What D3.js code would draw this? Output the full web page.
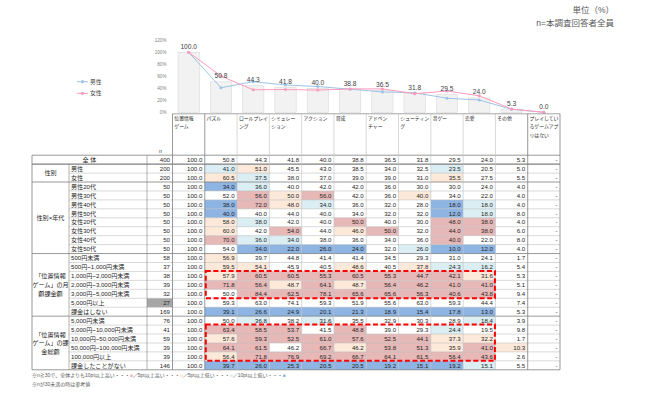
<!DOCTYPE html>
<html><head><meta charset="utf-8">
<script src="https://cdn.jsdelivr.net/npm/d3@7"></script>
<style>
body{margin:0;background:#fff;}
svg{display:block;font-family:"Liberation Sans","Noto Sans CJK JP",sans-serif;}
</style>
</head><body>
<svg id="c" width="650" height="393"></svg>
<script>
// ---------------- data ----------------
const categories = ["位置情報ゲーム","パズル","ロールプレイング","シミュレーション","アクション","育成","アドベンチャー","シューティング","音ゲー","恋愛","その他","プレイしているゲームアプリはない"];
const categoryLines = [["位置情報","ゲーム"],["パズル"],["ロールプレイ","ング"],["シミュレー","ション"],["アクション"],["育成"],["アドベン","チャー"],["シューティン","グ"],["音ゲー"],["恋愛"],["その他"],["プレイしてい","るゲームアプ","リはない"]];
const barValues    = [100.0,50.8,44.3,41.8,40.0,38.8,36.5,31.8,29.5,24.0,5.3,0.0];
const maleValues   = [100.0,41.0,51.0,45.5,43.0,38.5,34.0,32.5,23.5,20.5,5.0,0.0];
const femaleValues = [100.0,60.5,37.5,38.0,37.0,39.0,39.0,31.0,35.5,27.5,5.5,0.0];
const seriesNames = ["男性","女性"];
const yTicks = [0,20,40,60,80,100,120];

const rowLabels = ["全 体","男性","女性","男性20代","男性30代","男性40代","男性50代","女性20代","女性30代","女性40代","女性50代",
  "500円未満","500円~1,000円未満","1,000円~2,000円未満","2,000円~3,000円未満","3,000円~5,000円未満","5,000円以上","課金はしない",
  "5,000円未満","5,000円~10,000円未満","10,000円~50,000円未満","50,000円~100,000円未満","100,000円以上","課金したことがない"];
const rowN = [400,200,200,50,50,50,50,50,50,50,50,58,37,38,39,32,27,169,76,41,59,39,39,146];
const rowValues = [
  [100.0,50.8,44.3,41.8,40.0,38.8,36.5,31.8,29.5,24.0,5.3,null],
  [100.0,41.0,51.0,45.5,43.0,38.5,34.0,32.5,23.5,20.5,5.0,null],
  [100.0,60.5,37.5,38.0,37.0,39.0,39.0,31.0,35.5,27.5,5.5,null],
  [100.0,34.0,36.0,40.0,42.0,42.0,36.0,30.0,30.0,24.0,4.0,null],
  [100.0,52.0,56.0,50.0,56.0,42.0,36.0,40.0,34.0,22.0,4.0,null],
  [100.0,38.0,72.0,48.0,34.0,36.0,32.0,28.0,18.0,18.0,4.0,null],
  [100.0,40.0,40.0,44.0,40.0,34.0,32.0,32.0,12.0,18.0,8.0,null],
  [100.0,58.0,38.0,42.0,40.0,50.0,40.0,30.0,48.0,38.0,4.0,null],
  [100.0,60.0,42.0,54.0,44.0,46.0,50.0,32.0,44.0,38.0,6.0,null],
  [100.0,70.0,36.0,34.0,38.0,36.0,34.0,36.0,40.0,22.0,8.0,null],
  [100.0,54.0,34.0,22.0,26.0,24.0,32.0,26.0,10.0,12.0,4.0,null],
  [100.0,56.9,39.7,44.8,41.4,41.4,34.5,29.3,31.0,24.1,1.7,null],
  [100.0,59.5,54.1,45.9,40.5,48.6,40.5,37.8,24.3,16.2,5.4,null],
  [100.0,57.9,60.5,60.5,55.3,60.5,55.3,44.7,42.1,31.6,5.3,null],
  [100.0,71.8,56.4,48.7,64.1,48.7,56.4,46.2,41.0,41.0,5.1,null],
  [100.0,50.0,84.4,62.5,78.1,65.6,65.6,56.3,40.6,43.8,9.4,null],
  [100.0,59.3,63.0,74.1,59.3,51.9,55.6,63.0,59.3,44.4,7.4,null],
  [100.0,39.1,26.6,24.9,20.1,21.3,18.9,15.4,17.8,13.0,5.3,null],
  [100.0,50.0,36.8,38.2,31.6,35.5,32.9,30.3,28.9,18.4,3.9,null],
  [100.0,63.4,58.5,53.7,41.5,48.8,39.0,29.3,24.4,19.5,9.8,null],
  [100.0,57.6,59.3,52.5,61.0,57.6,52.5,44.1,37.3,32.2,1.7,null],
  [100.0,64.1,61.5,46.2,66.7,46.2,53.8,51.3,35.9,41.0,10.3,null],
  [100.0,56.4,71.8,76.9,69.2,66.7,64.1,61.5,56.4,43.6,2.6,null],
  [100.0,39.7,26.0,25.3,20.5,20.5,19.2,15.1,19.2,15.1,5.5,null]
];
const groupLines = [["性別"],["性別×年代"],["「位置情報","ゲーム」の月","額課金額"],["「位置情報","ゲーム」の課","金総額"]];
const groupStart = [1,3,11,18];
const groupEnd   = [2,10,17,23];
const highlightRows = [[13,15],[19,22]];
const highlightCols = [1,9];
const footParts = ["※n≧30で、全体よりも10pt以上高い・・・","／5pt以上高い・・・","／5pt以上低い・・・","／10pt以上低い・・・"];
const footNote2 = "※nが30未満の時は参考値";
const unitLines = ["単位（%）","n=本調査回答者全員"];

// ---------------- styles ----------------
const C_RED="#e6b8b7", C_PEACH="#fde9d9", C_LBLUE="#daeef3", C_BLUE="#8db4e2";
const legendColors = ["#9dc3e6","#ff99bb"];
function cellColor(v, base, n){
  if(v==null || n<30) return null;
  const d = Math.round((v-base)*10)/10;
  if(d>=10) return C_RED;
  if(d>=5) return C_PEACH;
  if(d<=-10) return C_BLUE;
  if(d<=-5) return C_LBLUE;
  return null;
}

const svg = d3.select("#c");
const X0=32, X1=69, X2=147, XD=172.5, XE=560;
const col = d3.scaleBand().domain(d3.range(categories.length)).range([XD, XE]);
const step = col.bandwidth();
const cx = i => col(i)+step/2;
const y = d3.scaleLinear().domain([0,120]).range([112.3,40.3]);
const row = d3.scaleBand().domain(d3.range(rowLabels.length)).range([155.2,369.8]);
const rh = row.bandwidth();
const ry = i => row(i)+rh/2;

// ---------------- top-right unit ----------------
svg.append("g").selectAll("text").data(unitLines).join("text")
  .attr("x",614).attr("y",(d,i)=>13+i*12.5).attr("text-anchor","end")
  .attr("font-size",8.5).attr("fill","#595959").text(d=>d);

// ---------------- bar chart ----------------
svg.append("g").selectAll("rect").data(barValues).join("rect")
  .attr("x",(d,i)=>col(i)+step*0.17).attr("width",step*0.66)
  .attr("y",d=>y(d)).attr("height",d=>y(0)-y(d))
  .attr("fill","#f2f2f2").attr("stroke","#d9d9d9").attr("stroke-width",0.6);

const yAxis = d3.axisLeft(y).tickValues(yTicks).tickFormat(d=>d+"%").tickSize(0).tickPadding(0);
const ya = svg.append("g").attr("transform","translate(166.5,0)").call(yAxis);
ya.select(".domain").remove();
ya.attr("font-family",null);
ya.selectAll("text").attr("font-size",4.6).attr("fill","#808080");

const lineGen = d3.line().x((d,i)=>cx(i)).y(d=>y(d));
[maleValues,femaleValues].forEach((vals,k)=>{
  svg.append("path").datum(vals).attr("d",lineGen).attr("fill","none")
    .attr("stroke",legendColors[k]).attr("stroke-width",1);
  svg.append("g").selectAll("circle").data(vals).join("circle")
    .attr("cx",(d,i)=>cx(i)).attr("cy",d=>y(d)).attr("r",1.5).attr("fill",legendColors[k]);
});

svg.append("g").selectAll("text").data(barValues).join("text")
  .attr("x",(d,i)=>cx(i)).attr("y",d=>y(d)-3.5).attr("text-anchor","middle")
  .attr("font-size",6.6).attr("fill","#404040").text(d=>d.toFixed(1));

// legend
const lg = svg.append("g");
seriesNames.forEach((s,k)=>{
  const yy = 81.7 + k*11.6;
  lg.append("line").attr("x1",77).attr("x2",88).attr("y1",yy).attr("y2",yy).attr("stroke",legendColors[k]).attr("stroke-width",1);
  lg.append("circle").attr("cx",82.5).attr("cy",yy).attr("r",1.6).attr("fill",legendColors[k]);
  lg.append("text").attr("x",90).attr("y",yy).attr("dy","0.35em").attr("font-size",5.8).attr("fill","#404040").text(s);
});

// ---------------- table header ----------------
const HT = 113.8;
const hdr = svg.append("g");
hdr.append("line").attr("x1",XD).attr("x2",XE).attr("y1",HT).attr("y2",HT).attr("stroke","#7f7f7f").attr("stroke-width",0.7);
categoryLines.forEach((lines,i)=>{
  hdr.append("g").selectAll("text").data(lines).join("text")
    .attr("x",col(i)+1.8).attr("y",(d,j)=>120.2+j*8.2)
    .attr("font-size",4.85).attr("fill","#262626").text(d=>d);
});
hdr.append("text").attr("x",159).attr("y",153).attr("font-size",5.4).attr("fill","#404040").text("n");

// ---------------- table body ----------------
const body = svg.append("g");
rowValues.forEach((vals,r)=>{
  vals.forEach((v,c)=>{
    const f = cellColor(v,rowValues[0][c],rowN[r]);
    if(f) body.append("rect").attr("x",col(c)).attr("y",row(r)).attr("width",step).attr("height",rh).attr("fill",f);
  });
  if(rowN[r]<30) body.append("rect").attr("x",X2).attr("y",row(r)).attr("width",XD-X2).attr("height",rh).attr("fill","#a6a6a6");
});

const gridL="#bfbfbf", gridD="#7f7f7f";
for(let r=1;r<rowLabels.length;r++){
  const isGroupStart = groupStart.includes(r);
  body.append("line").attr("x1",isGroupStart?X0:X1).attr("x2",XE).attr("y1",row(r)).attr("y2",row(r))
    .attr("stroke",isGroupStart?gridD:gridL).attr("stroke-width",r===1?1.3:(isGroupStart?0.8:0.6));
}
body.append("line").attr("x1",X0).attr("x2",XE).attr("y1",row(0)).attr("y2",row(0)).attr("stroke",gridD).attr("stroke-width",0.8);
const yEnd = row(rowLabels.length-1)+rh;
body.append("line").attr("x1",X0).attr("x2",XE).attr("y1",yEnd).attr("y2",yEnd).attr("stroke",gridD).attr("stroke-width",0.8);

const vTop = row(0);
body.append("line").attr("x1",X0).attr("x2",X0).attr("y1",vTop).attr("y2",yEnd).attr("stroke",gridD).attr("stroke-width",0.8);
body.append("line").attr("x1",X1).attr("x2",X1).attr("y1",row(1)).attr("y2",yEnd).attr("stroke",gridD).attr("stroke-width",0.6);
body.append("line").attr("x1",X2).attr("x2",X2).attr("y1",vTop).attr("y2",yEnd).attr("stroke",gridD).attr("stroke-width",0.6);
for(let c=0;c<=categories.length;c++){
  const x = c===categories.length ? XE : col(c);
  const dark = (c===0||c===1||c===11||c===categories.length);
  body.append("line").attr("x1",x).attr("x2",x).attr("y1",HT).attr("y2",yEnd)
    .attr("stroke",dark?gridD:gridL).attr("stroke-width",dark?0.8:0.6);
}

const FS = 6.1;
rowLabels.forEach((lab,r)=>{
  if(r===0){
    body.append("text").attr("x",(X0+X2)/2).attr("y",ry(r)).attr("dy","0.36em").attr("text-anchor","middle").attr("font-size",FS).attr("fill","#262626").text(lab);
  } else {
    body.append("text").attr("x",X1+2).attr("y",ry(r)).attr("dy","0.36em").attr("font-size",FS).attr("fill","#262626").text(lab);
  }
  body.append("text").attr("x",XD-2.5).attr("y",ry(r)).attr("dy","0.36em").attr("text-anchor","end").attr("font-size",FS).attr("fill","#262626").text(rowN[r]);
  rowValues[r].forEach((v,c)=>{
    body.append("text").attr("x",col(c)+step-2.5).attr("y",ry(r)).attr("dy","0.36em").attr("text-anchor","end")
      .attr("font-size",FS).attr("fill","#262626").text(v==null?"-":v.toFixed(1));
  });
});
groupLines.forEach((lines,g)=>{
  const mid = (row(groupStart[g]) + row(groupEnd[g])+rh)/2;
  const lh = 8.6;
  body.append("g").selectAll("text").data(lines).join("text")
    .attr("x",(X0+X1)/2).attr("y",(d,j)=>mid+(j-(lines.length-1)/2)*lh).attr("dy","0.36em")
    .attr("text-anchor","middle").attr("font-size",FS).attr("fill","#262626").text(d=>d);
});

highlightRows.forEach(([a,b])=>{
  svg.append("rect").attr("x",col(highlightCols[0])+1).attr("y",row(a)-0.5)
    .attr("width",col(highlightCols[1])+step-col(highlightCols[0])-1.5)
    .attr("height",row(b)+rh-row(a)+0.5)
    .attr("fill","none").attr("stroke","#ff0000").attr("stroke-width",2).attr("stroke-dasharray","5,2.6");
});

const footColors = [C_RED,C_PEACH,C_LBLUE,C_BLUE];
const ft = svg.append("text").attr("x",X0).attr("y",376.5).attr("font-size",5).attr("fill","#595959");
footParts.forEach((p,i)=>{
  ft.append("tspan").text(p);
  ft.append("tspan").attr("fill",footColors[i]).text("■");
});
svg.append("text").attr("x",X0).attr("y",386).attr("font-size",5).attr("fill","#595959").text(footNote2);
</script>
</body></html>
